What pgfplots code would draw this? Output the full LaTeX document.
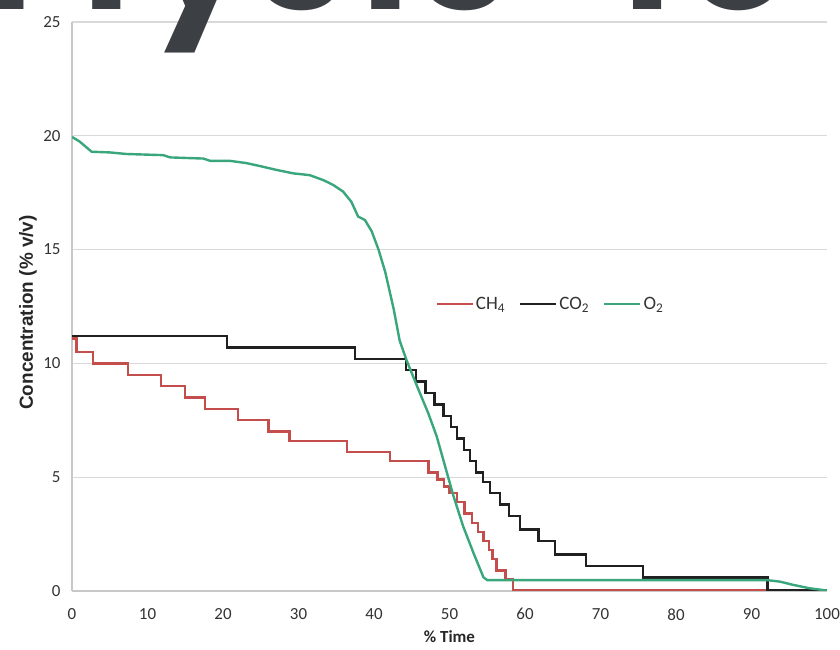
\documentclass[border=0pt]{standalone}
\usepackage{fontspec}
\setmainfont{Carlito}
\newfontfamily\titlefont{Poppins}
\newfontfamily\labfont{Liberation Sans}
\usepackage{pgfplots}
\pgfplotsset{compat=1.18}
\definecolor{chred}{RGB}{196,78,76}
\definecolor{coblack}{RGB}{32,32,32}
\definecolor{ogreen}{RGB}{58,166,124}
\definecolor{gridgray}{RGB}{217,217,217}
\definecolor{axisgray}{RGB}{200,200,200}
\definecolor{titlegray}{RGB}{60,63,68}
\begin{document}
\begin{tikzpicture}
\useasboundingbox (0,0) rectangle (840bp,650bp);
\clip (0,0) rectangle (840bp,650bp);
\fill[white] (0,0) rectangle (840bp,650bp);
\begin{axis}[
  at={(72bp,59bp)}, anchor=south west,
  scale only axis, width=755bp, height=569bp,
  xmin=0, xmax=100, ymin=0, ymax=25,
  xtick={0,10,...,100}, ytick={0,5,...,25},
  axis lines*=left,
  axis line style={draw=axisgray, line width=1.3bp},
  ymajorgrids, grid style={draw=gridgray, line width=1.3bp},
  major tick length=0pt,
  /pgf/number format/assume math mode=true,
  ticklabel style={font=\fontsize{17}{17}\selectfont, text=black!80},
  yticklabel shift=8bp,
  xticklabel shift=14bp,
  xlabel={\% Time},
  xlabel style={at={([yshift=-46bp]axis description cs:0.5,0)}, anchor=center, font=\bfseries\fontsize{17}{17}\selectfont, text=black!85},
  ylabel={Concentration (\% v/v)},
  ylabel style={at={([xshift=-44bp,yshift=-6bp]axis description cs:0,0.5)}, anchor=center, font=\labfont\bfseries\fontsize{19}{19}\selectfont, text=black!85},
  legend columns=3,
  legend style={at={(axis cs:48.0,12.6)}, anchor=west, draw=none, fill=none, inner sep=1bp,
    font=\fontsize{19}{19}\selectfont, text=black!80,
    /tikz/every even column/.append style={column sep=12bp}},
  legend image code/.code={\draw[#1] (0bp,0bp) -- (36bp,0bp);},
]
\addplot[chred, const plot, line width=2.4bp] coordinates {
(0,11.1) (0.6,10.5) (2.8,10.0) (7.4,9.5) (11.8,9.0) (15.0,8.5) (17.6,8.0)
(22.0,7.5) (26.0,7.0) (28.8,6.6) (36.4,6.1) (42.1,5.7) (47.2,5.2) (48.4,4.9)
(49.3,4.6) (50.0,4.3) (51.0,3.9) (52.0,3.4) (53.0,3.0) (53.8,2.6) (54.5,2.2)
(55.2,1.8) (55.7,1.4) (56.2,0.9) (57.4,0.5) (58.4,0.05) (100,0.05)
};
\addlegendentry{CH\textsubscript{4}}
\addplot[coblack, const plot, line width=2.4bp] coordinates {
(0,11.2) (20.5,10.7) (37.5,10.2) (44.2,9.7) (45.6,9.2) (46.8,8.7) (48.0,8.2)
(49.2,7.7) (50.2,7.2) (51.0,6.7) (51.9,6.2) (52.7,5.7) (53.5,5.2) (54.4,4.8)
(55.4,4.3) (56.7,3.8) (57.9,3.3) (59.3,2.7) (61.8,2.2) (64.0,1.6) (68.1,1.1)
(75.6,0.6) (92.1,0.05) (100,0.05)
};
\addlegendentry{CO\textsubscript{2}}
\addplot[ogreen, line width=2.4bp, line join=round] coordinates {
(0,19.95) (1.0,19.75) (2.6,19.3) (5.0,19.27) (7.2,19.2) (12.1,19.15) (13.0,19.05)
(17.4,19.0) (18.3,18.9) (20.9,18.9) (23.1,18.8) (24.9,18.67) (27.1,18.5)
(29.3,18.35) (31.5,18.27) (33.3,18.05) (34.6,17.84) (35.9,17.55) (37.0,17.1)
(37.9,16.45) (38.8,16.3) (39.7,15.8) (40.6,15.0) (41.5,14.0) (42.6,12.4)
(43.4,11.0) (44.3,10.15) (45.7,9.0) (47.2,7.8) (48.3,6.8) (49.4,5.5) (50.5,4.2)
(51.8,2.85) (53.2,1.65) (54.5,0.6) (55.0,0.48) (92.0,0.48) (93.8,0.41)
(95.5,0.27) (97.7,0.12) (100,0.02)
};
\addlegendentry{O\textsubscript{2}}
\end{axis}
\begin{scope}[every node/.style={anchor=base, inner sep=0pt, text=titlegray, font=\titlefont\bfseries\fontsize{165}{165}\selectfont}]
\node at (-22bp,640bp) {a};
\node at (107bp,640bp) {l};
\node at (200bp,640bp) {y};
\node at (300bp,640bp) {s};
\node at (386bp,640bp) {i};
\node at (463bp,640bp) {s};
\node at (650bp,640bp) {f};
\node at (739bp,640bp) {o};
\end{scope}
\end{tikzpicture}
\end{document}
